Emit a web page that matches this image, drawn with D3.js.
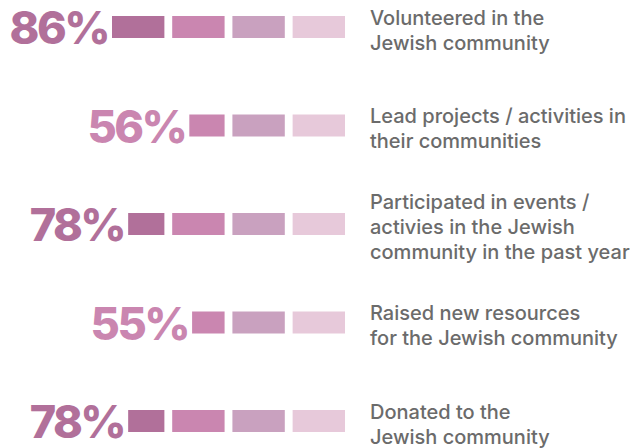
<!DOCTYPE html>
<html>
<head>
<meta charset="utf-8">
<script src="https://cdn.jsdelivr.net/npm/d3@7"></script>
<style>
  html, body { margin: 0; padding: 0; background: #ffffff; }
  svg { display: block; }
</style>
</head>
<body>
<script>
// Share of respondents for each kind of community involvement
const categories = ["volunteered", "lead", "participated", "raised", "donated"];
const values = [86, 56, 78, 55, 78];
const descriptions = [
  ["Volunteered in the", "Jewish community"],
  ["Lead projects / activities in", "their communities"],
  ["Participated in events /", "activies in the Jewish", "community in the past year"],
  ["Raised new resources", "for the Jewish community"],
  ["Donated to the", "Jewish community"]
];
// Four segments of the bar, darkest on the left
const segments = [0, 1, 2, 3];
const segmentColors = ["#b1709a", "#ca86b0", "#c9a1bf", "#e7c9da"];

const width = 634, height = 448;
const barRight = 345;

const svg = d3.select("body").append("svg")
  .attr("width", width)
  .attr("height", height);

const y = d3.scalePoint().domain(categories).range([27, 421]);
const xValue = d3.scaleLinear().domain([0, 100]).range([barRight, barRight - 278]);
const xSeg = d3.scaleBand().domain(segments).range([112, barRight]).paddingInner(0.13).paddingOuter(0);

const boxH = 22;
const lineH = 25;

const rows = categories.map((c, i) => {
  const start = xValue(values[i]);
  const pieces = segments
    .map(s => {
      const left = xSeg(s), right = xSeg(s) + xSeg.bandwidth();
      return { s, x0: Math.max(left, start), x1: right };
    })
    .filter(p => p.x1 > p.x0);
  return { key: c, value: values[i], lines: descriptions[i], pieces };
});

const g = svg.selectAll("g.row").data(rows).join("g")
  .attr("class", "row")
  .attr("transform", d => `translate(0,${y(d.key)})`);

g.selectAll("rect").data(d => d.pieces).join("rect")
  .attr("x", p => p.x0)
  .attr("y", -boxH / 2)
  .attr("width", p => p.x1 - p.x0)
  .attr("height", boxH)
  .attr("fill", p => segmentColors[p.s]);

g.append("text")
  .attr("x", d => d.pieces[0].x0 - 4)
  .attr("y", 17)
  .attr("text-anchor", "end")
  .attr("font-family", "Inter, 'Noto Sans', sans-serif")
  .attr("font-weight", 800)
  .attr("font-size", 45)
  .attr("letter-spacing", -2.5)
  .attr("fill", d => segmentColors[d.pieces[0].s])
  .text(d => d.value + "%");

g.append("text")
  .attr("font-family", "Inter, 'Noto Sans', sans-serif")
  .attr("font-weight", 500)
  .attr("font-size", 20)
  .attr("fill", "#6b6b6b")
  .selectAll("tspan").data(d => d.lines.map((t, j) => ({ t, j, n: d.lines.length }))).join("tspan")
  .attr("x", 370)
  .attr("y", l => -(l.n - 1) * lineH / 2 + 10 + l.j * lineH)
  .text(l => l.t);
</script>
</body>
</html>
